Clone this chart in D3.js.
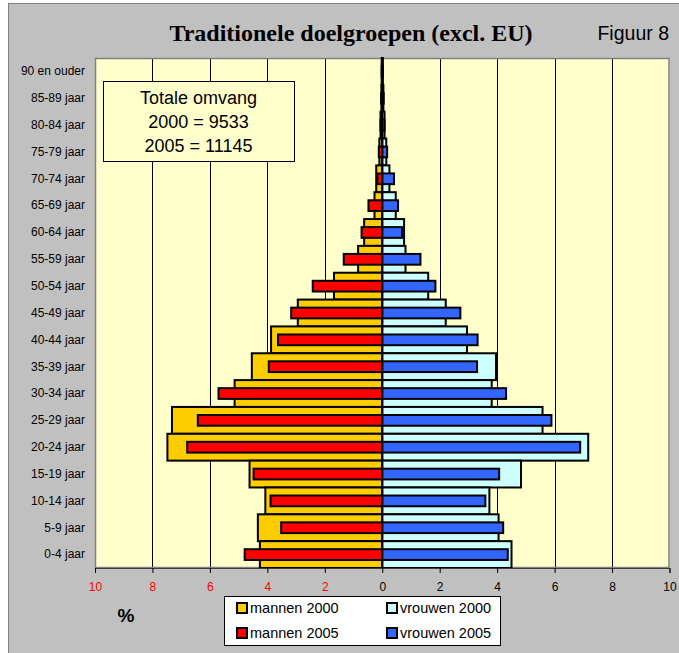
<!DOCTYPE html>
<html>
<head>
<meta charset="utf-8">
<script src="https://cdn.jsdelivr.net/npm/d3@7"></script>
<style>
  html, body { margin: 0; padding: 0; background: #ffffff; }
  svg { display: block; }
</style>
</head>
<body>
<svg id="chart" width="679" height="653"></svg>
<script>
const categories = ["90 en ouder","85-89 jaar","80-84 jaar","75-79 jaar","70-74 jaar","65-69 jaar","60-64 jaar","55-59 jaar","50-54 jaar","45-49 jaar","40-44 jaar","35-39 jaar","30-34 jaar","25-29 jaar","20-24 jaar","15-19 jaar","10-14 jaar","5-9 jaar","0-4 jaar"];
const mannen2000 = [0.02,0.03,0.06,0.10,0.21,0.27,0.63,0.84,1.68,2.94,3.87,4.54,5.14,7.32,7.48,4.62,4.07,4.33,4.26];
const mannen2005 = [0.02,0.04,0.06,0.12,0.17,0.48,0.72,1.34,2.42,3.17,3.63,3.95,5.70,6.42,6.79,4.48,3.89,3.52,4.79];
const vrouwen2000 = [0.02,0.04,0.08,0.14,0.25,0.47,0.76,0.81,1.60,2.21,2.95,3.96,3.81,5.58,7.17,4.83,3.73,4.05,4.50];
const vrouwen2005 = [0.02,0.05,0.08,0.17,0.41,0.55,0.69,1.33,1.85,2.72,3.32,3.30,4.31,5.89,6.89,4.07,3.59,4.21,4.37];
const xTicks = [-10,-8,-6,-4,-2,0,2,4,6,8,10];
const titleText = "Traditionele doelgroepen (excl. EU)";
const figText = "Figuur 8";
const boxLines = ["Totale omvang","2000 = 9533","2005 = 11145"];
const legendItems = [
  {label:"mannen 2000", color:"#ffcc00"},
  {label:"vrouwen 2000", color:"#ccffff"},
  {label:"mannen 2005", color:"#ff0000"},
  {label:"vrouwen 2005", color:"#3366ff"}
];

const svg = d3.select("#chart");
const sans = "'Liberation Sans', Arial, sans-serif";
const serif = "'Liberation Serif', 'Times New Roman', serif";

// chart area
svg.append("rect").attr("x",8.5).attr("y",3.5).attr("width",680).attr("height",660)
  .attr("fill","#c0c0c0").attr("stroke","#808080").attr("stroke-width",1);

const pLeft = 95, pRight = 669.5, pTop = 58, pBottom = 568;
const x = d3.scaleLinear().domain([-10,10]).range([pLeft,pRight]);
const y = d3.scaleBand().domain(categories).range([pTop,pBottom]).paddingInner(0).paddingOuter(0);

// plot area
svg.append("rect").attr("x",pLeft).attr("y",pTop).attr("width",pRight-pLeft).attr("height",pBottom-pTop)
  .attr("fill","#ffffcc");

// gridlines
svg.append("g").selectAll("line").data(xTicks.filter(d=>d!==-10 && d!==10)).join("line")
  .attr("x1",d=>Math.round(x(d))+0.5).attr("x2",d=>Math.round(x(d))+0.5)
  .attr("y1",pTop).attr("y2",pBottom).attr("stroke","#000").attr("stroke-width",1);

// plot border
svg.append("rect").attr("x",pLeft+0.5).attr("y",pTop+0.5).attr("width",pRight-pLeft-1).attr("height",pBottom-pTop-1)
  .attr("fill","none").attr("stroke","#808080").attr("stroke-width",1.5);

// bars 2000 (full band)
const bw = y.bandwidth();
const g2000 = svg.append("g");
g2000.selectAll("rect.m0").data(categories).join("rect")
  .attr("x",(d,i)=>x(-mannen2000[i])).attr("width",(d,i)=>x(0)-x(-mannen2000[i]))
  .attr("y",d=>y(d)).attr("height",bw)
  .attr("fill","#ffcc00").attr("stroke","#000").attr("stroke-width",2);
g2000.selectAll("rect.v0").data(categories).join("rect")
  .attr("x",x(0)).attr("width",(d,i)=>x(vrouwen2000[i])-x(0))
  .attr("y",d=>y(d)).attr("height",bw)
  .attr("fill","#ccffff").attr("stroke","#000").attr("stroke-width",2);

// bars 2005 (narrow, centered)
const nh = bw*0.4;
const g2005 = svg.append("g");
g2005.selectAll("rect.m5").data(categories).join("rect")
  .attr("x",(d,i)=>x(-mannen2005[i])).attr("width",(d,i)=>x(0)-x(-mannen2005[i]))
  .attr("y",d=>y(d)+(bw-nh)/2).attr("height",nh)
  .attr("fill","#ff0000").attr("stroke","#000").attr("stroke-width",2);
g2005.selectAll("rect.v5").data(categories).join("rect")
  .attr("x",x(0)).attr("width",(d,i)=>x(vrouwen2005[i])-x(0))
  .attr("y",d=>y(d)+(bw-nh)/2).attr("height",nh)
  .attr("fill","#3366ff").attr("stroke","#000").attr("stroke-width",2);

// center axis line
svg.append("line").attr("x1",x(0)).attr("x2",x(0)).attr("y1",pTop).attr("y2",pBottom)
  .attr("stroke","#000").attr("stroke-width",2);

// x axis
const xAxis = d3.axisBottom(x).tickValues(xTicks).tickSize(5).tickPadding(9)
  .tickFormat(d=>Math.abs(d));
const ga = svg.append("g").attr("transform",`translate(0,${pBottom})`).call(xAxis);
ga.select(".domain").attr("stroke","#404040");
ga.selectAll(".tick line").attr("stroke","#000");
ga.selectAll(".tick text").attr("font-family",sans).attr("font-size",12)
  .attr("fill",d=>d<0?"#ff0000":"#000");

// y axis labels
const yAxis = d3.axisLeft(y).tickSize(0).tickPadding(10);
const gy = svg.append("g").attr("transform",`translate(${pLeft},0)`).call(yAxis);
gy.select(".domain").remove();
gy.selectAll(".tick text").attr("font-family",sans).attr("font-size",12).attr("fill","#000");

// title
svg.append("text").attr("x",351).attr("y",41).attr("text-anchor","middle")
  .attr("font-family",serif).attr("font-weight","bold").attr("font-size",24).text(titleText);
svg.append("text").attr("x",669).attr("y",40).attr("text-anchor","end")
  .attr("font-family",sans).attr("font-size",19.5).text(figText);

// text box
svg.append("rect").attr("x",103.5).attr("y",81.5).attr("width",191).attr("height",80)
  .attr("fill","#ffffcc").attr("stroke","#000").attr("stroke-width",1);
svg.append("g").selectAll("text").data(boxLines).join("text")
  .attr("x",198.5).attr("y",(d,i)=>104+i*24).attr("text-anchor","middle")
  .attr("font-family",sans).attr("font-size",18).text(d=>d);

// % label
svg.append("text").attr("x",126).attr("y",622).attr("text-anchor","middle")
  .attr("font-family",sans).attr("font-weight","bold").attr("font-size",19).text("%");

// legend
const lg = svg.append("g");
lg.append("rect").attr("x",224.5).attr("y",596.5).attr("width",276).attr("height",49)
  .attr("fill","#ffffff").attr("stroke","#000").attr("stroke-width",1);
const li = lg.selectAll("g.item").data(legendItems).join("g")
  .attr("transform",(d,i)=>`translate(${i%2===0?237:387},${i<2?608:633})`);
li.append("rect").attr("x",0).attr("y",-5).attr("width",10).attr("height",10)
  .attr("fill",d=>d.color).attr("stroke","#000").attr("stroke-width",2);
li.append("text").attr("x",13).attr("y",5).attr("font-family",sans).attr("font-size",14.5)
  .text(d=>d.label);
</script>
</body>
</html>
